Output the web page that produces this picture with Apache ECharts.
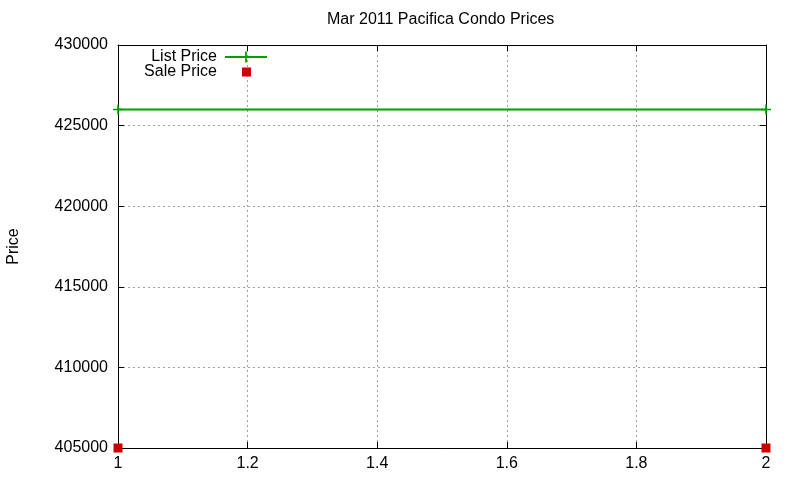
<!DOCTYPE html>
<html>
<head>
<meta charset="utf-8">
<script src="https://cdn.jsdelivr.net/npm/echarts@6/dist/echarts.min.js"></script>
<style>
  html, body { margin: 0; padding: 0; background: #fff; }
  #chart { width: 800px; height: 480px; }
</style>
</head>
<body>
<div id="chart"></div>
<script>
// data
const listX = [1, 2]
const listPrice = [426000, 426000]
const saleX = [1, 2]
const salePrice = [405000, 405000]

const FONT = 'Liberation Sans, Arial, sans-serif'
const GREEN = '#00a000'
const RED = '#cc0000'
const plusPath = 'path://M0,4.2L10,4.2L10,5.8L0,5.8Z M4.2,0L5.8,0L5.8,10L4.2,10Z'

const chart = echarts.init(document.getElementById('chart'))

const gridLine = { show: true, lineStyle: { color: '#a0a0a0', type: [2, 3], width: 1 } }
const blackLine = { show: true, lineStyle: { color: '#000', width: 1 } }
const innerTick = { show: true, inside: true, length: 6, lineStyle: { color: '#000' } }

const option = {
  animation: false,
  textStyle: { fontFamily: FONT },
  title: {
    text: 'Mar 2011 Pacifica Condo Prices',
    left: 322,
    top: 7,
    textStyle: { fontFamily: FONT, fontSize: 16, fontWeight: 'normal', color: '#000' },
  },
  legend: [
    {
      data: ['List Price'],
      right: 532,
      top: 49,
      padding: 0,
      align: 'right',
      itemWidth: 42,
      itemHeight: 14,
      itemGap: 0,
      textStyle: { fontFamily: FONT, fontSize: 16, color: '#000', padding: [0, 3, 0, 0] },
    },
    {
      data: ['Sale Price'],
      right: 549,
      top: 64,
      padding: 0,
      align: 'right',
      itemWidth: 9,
      itemHeight: 9,
      itemGap: 0,
      textStyle: { fontFamily: FONT, fontSize: 16, color: '#000', padding: [0, 20, 0, 0] },
    },
  ],
  grid: { left: 118, right: 34, top: 45, bottom: 32, show: false, outerBoundsMode: 'none' },
  xAxis: [
    {
      type: 'value',
      min: 1,
      max: 2,
      interval: 0.2,
      axisLine: blackLine,
      axisTick: innerTick,
      axisLabel: { fontFamily: FONT, fontSize: 16, color: '#000', margin: 8 },
      splitLine: gridLine,
    },
    {
      type: 'value',
      position: 'top',
      min: 1,
      max: 2,
      interval: 0.2,
      axisLine: blackLine,
      axisTick: innerTick,
      axisLabel: { show: false },
      splitLine: { show: false },
    },
  ],
  yAxis: [
    {
      type: 'value',
      min: 405000,
      max: 430000,
      interval: 5000,
      name: 'Price',
      nameLocation: 'middle',
      nameRotate: 90,
      nameGap: 96,
      nameTextStyle: { fontFamily: FONT, fontSize: 16, color: '#000' },
      axisLine: blackLine,
      axisTick: innerTick,
      axisLabel: {
        fontFamily: FONT,
        fontSize: 16,
        color: '#000',
        margin: 10,
        formatter: (v) => String(v),
      },
      splitLine: gridLine,
    },
    {
      type: 'value',
      position: 'right',
      min: 405000,
      max: 430000,
      interval: 5000,
      axisLine: blackLine,
      axisTick: innerTick,
      axisLabel: { show: false },
      splitLine: { show: false },
    },
  ],
  series: [
    {
      name: 'List Price',
      type: 'line',
      data: listX.map((x, i) => [x, listPrice[i]]),
      symbol: plusPath,
      symbolSize: 10,
      showAllSymbol: true,
      clip: false,
      lineStyle: { color: GREEN, width: 2 },
      itemStyle: { color: GREEN },
      z: 3,
    },
    {
      name: 'Sale Price',
      type: 'scatter',
      data: saleX.map((x, i) => [x, salePrice[i]]),
      symbol: 'rect',
      symbolSize: 9,
      clip: false,
      itemStyle: { color: RED, opacity: 1 },
      z: 4,
    },
  ],
}

chart.setOption(option)
</script>
</body>
</html>
